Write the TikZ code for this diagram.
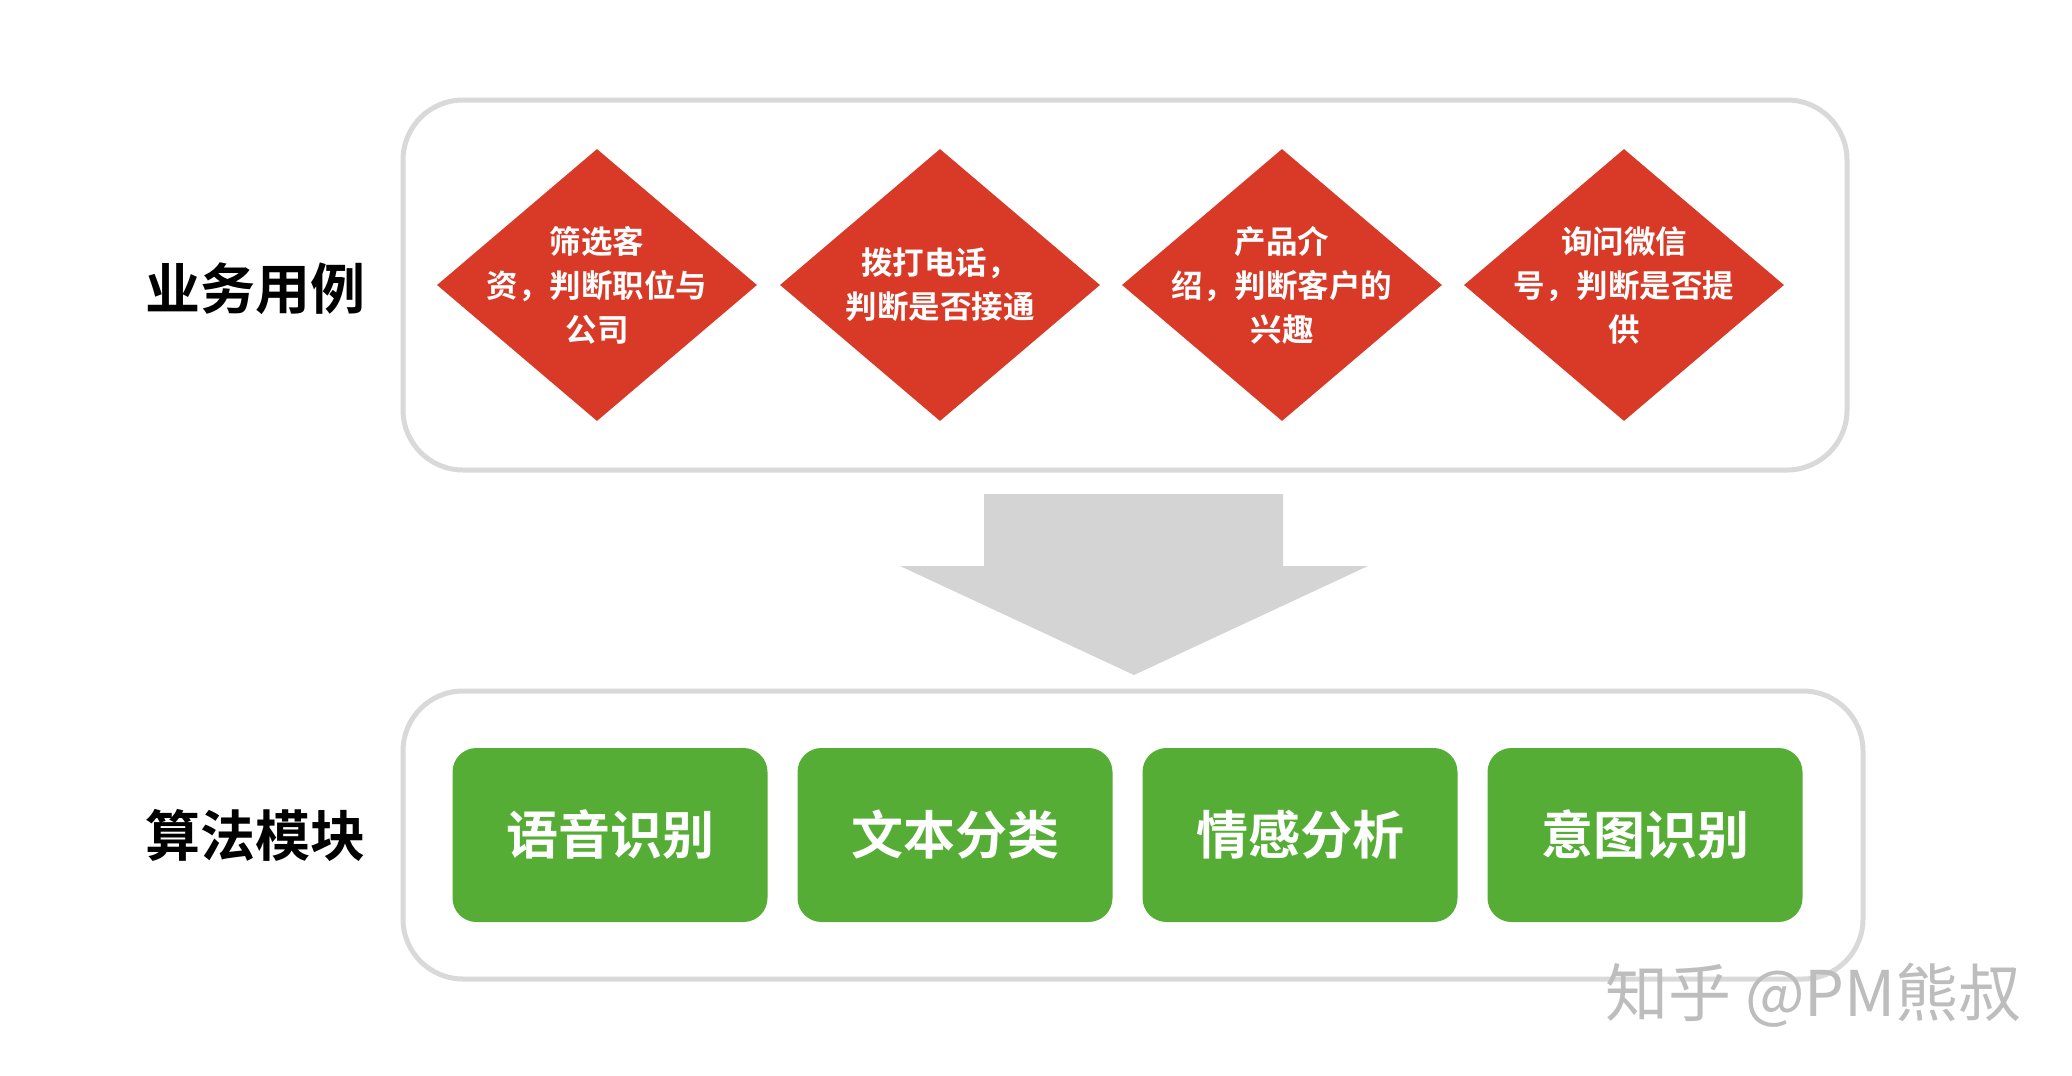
\documentclass[tikz,border=0pt]{standalone}
\usepackage{fontspec}
\setmainfont{Noto Sans CJK SC}[BoldFont={Noto Sans CJK SC Bold}]
\usetikzlibrary{shapes.geometric}
\definecolor{boxgray}{HTML}{D9D9D9}
\definecolor{arrowgray}{HTML}{D4D4D4}
\definecolor{dred}{HTML}{D83A27}
\definecolor{mgreen}{HTML}{55AD35}
\definecolor{wmgray}{HTML}{BDBDBD}
\tikzset{
  frame/.style={draw=boxgray, line width=5pt, rounded corners=60pt},
  dia/.style={diamond, fill=dred, inner sep=0pt, minimum width=320pt, minimum height=272pt},
  diatext/.style={text=white, font=\fontsize{31.5}{44}\selectfont\bfseries, align=center},
  gbox/.style={fill=mgreen, rounded corners=24pt, minimum width=315pt, minimum height=174pt, inner sep=0pt, text=white, font=\fontsize{52}{60}\selectfont\bfseries},
  sidelabel/.style={font=\fontsize{55}{62}\selectfont\bfseries, text=black, anchor=west, inner sep=0pt}
}
\begin{document}
\begin{tikzpicture}[x=1pt,y=-1pt]
\useasboundingbox[fill=white] (0,0) rectangle (2072,1076);
% top frame
\draw[frame] (403,100) rectangle (1847,470);
\node[sidelabel] (l1) at (145,289) {业务用例};
\node[dia] (d1) at (597,285) {};
\node[dia] (d2) at (940,285) {};
\node[dia] (d3) at (1282,285) {};
\node[dia] (d4) at (1624,285) {};
\node[diatext] (t1) at (d1) {筛选客\\资，判断职位与\\公司};
\node[diatext] (t2) at (d2) {拨打电话，\\判断是否接通};
\node[diatext] (t3) at (d3) {产品介\\绍，判断客户的\\兴趣};
\node[diatext] (t4) at (d4) {询问微信\\号，判断是否提\\供};
% big arrow
\fill[arrowgray] (984,494) -- (1283,494) -- (1283,566) -- (1368,566) -- (1134,675) -- (900,566) -- (984,566) -- cycle;
% bottom frame
\draw[frame] (403,691) rectangle (1863,979);
\node[sidelabel] (l2) at (145,835) {算法模块};
\node[gbox] (g1) at (610,835) {语音识别};
\node[gbox] (g2) at (955,835) {文本分类};
\node[gbox] (g3) at (1300,835) {情感分析};
\node[gbox] (g4) at (1645,835) {意图识别};
% watermark
\node[text=wmgray, font=\fontsize{63}{68}\selectfont, anchor=west, inner sep=0pt] (wm) at (1605,995) {知乎 @PM熊叔};
\end{tikzpicture}
\end{document}
